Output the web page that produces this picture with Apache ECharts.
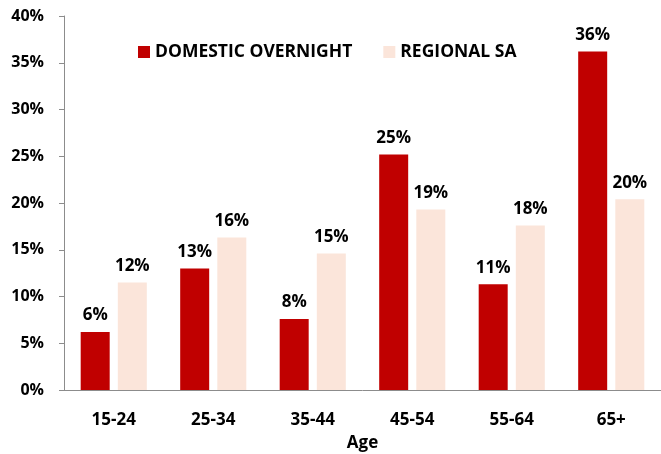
<!DOCTYPE html>
<html>
<head>
<meta charset="utf-8">
<script src="https://cdn.jsdelivr.net/npm/echarts@6/dist/echarts.min.js"></script>
<style>
  html, body { margin: 0; padding: 0; background: #fff; }
  #chart { width: 661px; height: 454px; }
</style>
</head>
<body>
<div id="chart"></div>
<script>
// age groups
var ageGroups = ['15-24', '25-34', '35-44', '45-54', '55-64', '65+'];
// share of visitors, %
var domesticOvernight = [6.2, 13.0, 7.6, 25.2, 11.3, 36.2];
var regionalSA = [11.5, 16.3, 14.6, 19.3, 17.6, 20.4];

var font = 'Open Sans';

var chart = echarts.init(document.getElementById('chart'));

function pct(p) {
    return Math.round(p.value) + '%';
}

var option = {
    animation: false,
    grid: {
        left: 64,
        right: 0,
        top: 16,
        bottom: 64,
        outerBoundsMode: 'none'
    },
    legend: {
        data: ['DOMESTIC OVERNIGHT', 'REGIONAL SA'],
        left: 133,
        top: 38,
        itemWidth: 12,
        itemHeight: 12,
        itemGap: 31,
        icon: 'rect',
        textStyle: {
            fontFamily: font,
            fontWeight: 'bold',
            fontSize: 17.5,
            color: '#000'
        }
    },
    xAxis: {
        type: 'category',
        data: ageGroups,
        name: 'Age',
        nameLocation: 'middle',
        nameGap: 45,
        nameTextStyle: {
            fontFamily: font,
            fontWeight: 'bold',
            fontSize: 17,
            color: '#000'
        },
        axisLine: { lineStyle: { color: '#8c8c8c' } },
        axisTick: { length: 6, lineStyle: { color: '#8c8c8c' } },
        axisLabel: {
            margin: 22,
            fontFamily: font,
            fontWeight: 'bold',
            fontSize: 17,
            color: '#000'
        }
    },
    yAxis: {
        type: 'value',
        min: 0,
        max: 40,
        interval: 5,
        splitLine: { show: false },
        axisLine: { show: true, lineStyle: { color: '#8c8c8c' } },
        axisTick: { show: true, length: 5, lineStyle: { color: '#8c8c8c' } },
        axisLabel: {
            margin: 20,
            formatter: '{value}%',
            fontFamily: font,
            fontWeight: 'bold',
            fontSize: 16,
            color: '#000'
        }
    },
    series: [
        {
            name: 'DOMESTIC OVERNIGHT',
            type: 'bar',
            data: domesticOvernight,
            barWidth: 29,
            barGap: '28%',
            itemStyle: { color: '#C00000' },
            label: {
                show: true,
                position: 'top',
                distance: 8,
                formatter: pct,
                fontFamily: font,
                fontWeight: 'bold',
                fontSize: 17,
                color: '#000'
            }
        },
        {
            name: 'REGIONAL SA',
            type: 'bar',
            data: regionalSA,
            barWidth: 29,
            itemStyle: { color: '#FBE5DA' },
            label: {
                show: true,
                position: 'top',
                distance: 8,
                formatter: pct,
                fontFamily: font,
                fontWeight: 'bold',
                fontSize: 17,
                color: '#000'
            }
        }
    ]
};

chart.setOption(option);
</script>
</body>
</html>
